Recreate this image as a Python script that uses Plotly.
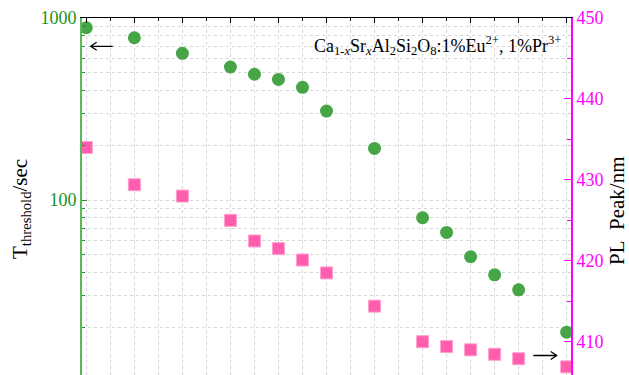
import plotly.graph_objects as go
import math

# ---- data ----
sr_content = [0, 0.1, 0.2, 0.3, 0.35, 0.4, 0.45, 0.5, 0.6, 0.7, 0.75, 0.8, 0.85, 0.9, 1.0]
t_threshold = [884, 779, 640, 538, 491, 460, 416, 308, 192, 79.9, 66.4, 48.8, 38.8, 32.1, 18.8]
pl_peak = [434.0, 429.4, 428.0, 425.0, 422.45, 421.5, 420.1, 418.5, 414.4, 410.0, 409.4, 409.0, 408.45, 407.9, 406.9]
left_ticks = [10, 100, 1000]
left_minor = [20, 30, 40, 50, 60, 70, 80, 90, 200, 300, 400, 500, 600, 700, 800, 900]

W, H = 629, 375
L, R, T, B = 82, 58, 18, 0
PW, PH = W - L - R, H - T - B


def px(x):
    return (x - L) / PW


def py(y):
    return 1 - (y - T) / PH


FONT = "Liberation Serif, Times New Roman, serif"
GRID = "#d6d6d6"
GREEN_LINE = "#5cb85c"
GREEN_TXT = "#1a931a"
MAG = "#ff00ff"

fig = go.Figure()
fig.add_trace(go.Scatter(
    x=sr_content, y=t_threshold, mode="markers", yaxis="y", xaxis="x",
    marker=dict(symbol="circle", size=13, color="rgba(60,160,60,0.95)",
                line=dict(width=0)),
    cliponaxis=False, showlegend=False, hoverinfo="skip"))
fig.add_trace(go.Scatter(
    x=sr_content, y=pl_peak, mode="markers", yaxis="y2", xaxis="x",
    marker=dict(symbol="square", size=12, color="rgba(255,85,170,0.95)",
                line=dict(width=1, color="rgba(255,160,205,1)")),
    cliponaxis=False, showlegend=False, hoverinfo="skip"))

fig.update_layout(
    width=W, height=H,
    margin=dict(l=L, r=R, t=T, b=B, pad=0),
    paper_bgcolor="white", plot_bgcolor="white",
    font=dict(family=FONT, color="black"),
    xaxis=dict(
        side="top", range=[-0.009, 1.009], showline=True, linecolor="black",
        linewidth=1.3, ticks="inside", tick0=0, dtick=0.1, ticklen=5,
        tickcolor="black", tickwidth=1, showticklabels=False,
        showgrid=True, gridcolor=GRID, griddash="dot", gridwidth=1,
        zeroline=False,
        minor=dict(dtick=0.05, ticks="inside", ticklen=3, tickcolor="black",
                   showgrid=True, gridcolor=GRID, griddash="dot", gridwidth=1),
    ),
    yaxis=dict(
        type="log", range=[math.log10(10.93), 3], side="left",
        showline=True, linecolor=GREEN_LINE, linewidth=1.6,
        ticks="inside", ticklen=5, tickcolor="#2e8b2e", tickwidth=1.3,
        tickmode="array", tickvals=left_ticks,
        ticktext=[str(v) for v in left_ticks],
        tickfont=dict(family=FONT, size=18, color=GREEN_TXT),
        showgrid=True, gridcolor=GRID, griddash="dot", gridwidth=1,
        zeroline=False,
        minor=dict(tickmode="array", tickvals=left_minor, ticks="inside",
                   ticklen=3, tickcolor="#2e8b2e", tickwidth=1.3,
                   showgrid=True, gridcolor=GRID, griddash="dot", gridwidth=1),
    ),
    yaxis2=dict(
        overlaying="y", side="right", range=[405.89, 450],
        showline=True, linecolor=MAG, linewidth=1.6,
        ticks="inside", tick0=0, dtick=10, ticklen=7, tickcolor=MAG, tickwidth=1.3,
        tickfont=dict(family=FONT, size=18, color=MAG),
        showgrid=False, zeroline=False,
        minor=dict(dtick=5, ticks="inside", ticklen=4, tickcolor=MAG, tickwidth=1.3),
    ),
)

# axis titles
fig.add_annotation(
    xref="paper", yref="paper", x=px(21), y=py(209), textangle=-90,
    text="T<sub>threshold</sub>/sec", showarrow=False,
    font=dict(family=FONT, size=21, color="black"), xanchor="center", yanchor="middle")
fig.add_annotation(
    xref="paper", yref="paper", x=px(617), y=py(211), textangle=-90,
    text="PL\u00a0\u00a0Peak/nm", showarrow=False,
    font=dict(family=FONT, size=21, color="black"), xanchor="center", yanchor="middle")

# formula label
fig.add_annotation(
    xref="paper", yref="paper", x=px(312), y=py(46),
    text="Ca<sub>1-<i>x</i></sub>Sr<sub><i>x</i></sub>Al<sub>2</sub>Si<sub>2</sub>O<sub>8</sub>:1%Eu<sup>2+</sup>, 1%Pr<sup>3+</sup>",
    showarrow=False, font=dict(family=FONT, size=18, color="black"),
    xanchor="left", yanchor="middle")


# arrows
def arrow_path(x_tail, x_head, y):
    d = 1 if x_head > x_tail else -1
    hx = x_head - d * 6
    return (f"M {px(x_tail)},{py(y)} L {px(x_head)},{py(y)} "
            f"M {px(hx)},{py(y - 4)} L {px(x_head)},{py(y)} L {px(hx)},{py(y + 4)}")


for xt, xh, yy in [(112.7, 90.7, 46.3), (533.3, 556.7, 355.5)]:
    fig.add_shape(type="path", xref="paper", yref="paper",
                  path=arrow_path(xt, xh, yy),
                  line=dict(color="black", width=1.3))

fig.write_html("out.html",
               config={"displayModeBar": False},
               post_script="document.body.style.margin='0';document.body.style.overflow='hidden';")
